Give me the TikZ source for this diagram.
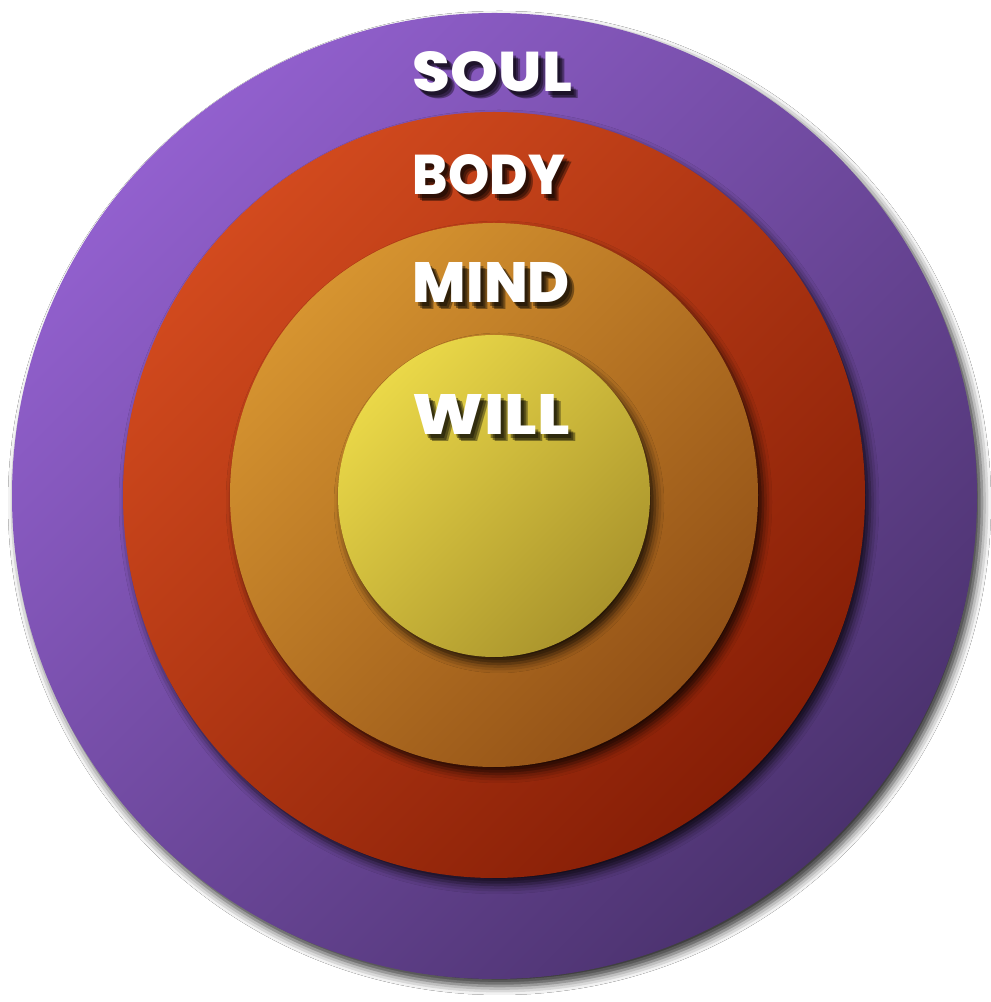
\documentclass[tikz,border=0pt]{standalone}
\usepackage{fontspec}
\usetikzlibrary{shapes.geometric,shadows.blur}
\newfontfamily\labfont{Poppins}[BoldFont={Poppins ExtraBold}]
\definecolor{purpA}{HTML}{9260CE}
\definecolor{purpB}{HTML}{4B326E}
\definecolor{redA}{HTML}{D24A1E}
\definecolor{redB}{HTML}{861E06}
\definecolor{orA}{HTML}{D69430}
\definecolor{orB}{HTML}{925016}
\definecolor{yelA}{HTML}{EAD848}
\definecolor{yelB}{HTML}{AA942C}
\newcommand\ringlabel[5]{%
  \foreach \dx/\dy in {3/-4,5/-6,7/-7}
    \node[lbl, black, opacity=.38] at (#2+\dx,#3+\dy) {\resizebox{#4pt}{40pt}{\labfont\bfseries #5}};
  \node[lbl, white] (#1) at (#2,#3) {\resizebox{#4pt}{40pt}{\labfont\bfseries #5}};
}
\begin{document}
\begin{tikzpicture}[x=1pt,y=1pt,
  ring/.style={ellipse, inner sep=0pt, outer sep=0pt, draw=none},
  diag/.style={shading angle=45},
  ringshadow/.style={blur shadow={shadow xshift=5pt, shadow yshift=-7pt, shadow blur radius=9pt, shadow opacity=80}},
  lbl/.style={anchor=base, inner sep=0pt, outer sep=0pt}]
\useasboundingbox (0,0) rectangle (991,1002);
\fill[white] (0,0) rectangle (991,1002);
\node[ring, ringshadow, minimum width=965pt, minimum height=966pt, top color=purpA, bottom color=purpB, diag] (soulring) at (494.5,506) {};
\node[ring, ringshadow, minimum width=742pt, minimum height=766pt, top color=redA, bottom color=redB, diag] (bodyring) at (494,507) {};
\node[ring, ringshadow, minimum width=528pt, minimum height=544pt, top color=orA, bottom color=orB, diag] (mindring) at (494,507) {};
\node[ring, ringshadow, minimum width=312pt, minimum height=322pt, top color=yelA, bottom color=yelB, diag] (willring) at (494,506) {};
\ringlabel{soul}{492.5}{910}{159}{SOUL}
\ringlabel{body}{489}{807}{152}{BODY}
\ringlabel{mind}{491.5}{699}{157}{MIND}
\ringlabel{will}{491.5}{567}{157}{WILL}
\end{tikzpicture}
\end{document}
